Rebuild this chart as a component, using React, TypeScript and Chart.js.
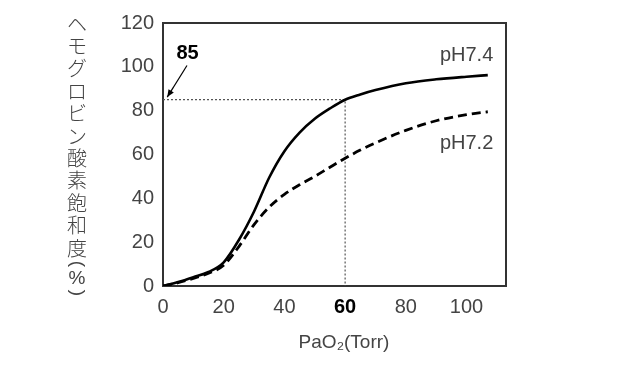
import React, { useEffect, useRef } from 'react';
import { Chart, registerables } from 'chart.js';

Chart.register(...registerables);

// ---- data ----
const xTicks = [0, 20, 40, 60, 80, 100];
const yTicks = [0, 20, 40, 60, 80, 100, 120];
const paO2 = [0, 5, 10, 15, 20, 25, 30, 35, 40, 45, 50, 55, 60, 65, 70, 80, 90, 100, 107];
const ph74 = [0, 1.8, 4, 6.4, 10.8, 21, 34, 49.5, 61.5, 70, 76.3, 81, 85, 87.4, 89.4, 92.5, 94.3, 95.5, 96.2];
const ph72 = [0, 1.5, 3.5, 5.8, 9.5, 18, 28, 36, 41.8, 46.2, 50, 54.2, 58.3, 62, 65.3, 71, 75.4, 78.2, 79.5];
const refX = [0, 60, 60];
const refY = [85, 85, 0];
const highlightX = 60;
const highlightValue = '85';
const yTitleChars = ['ヘ', 'モ', 'グ', 'ロ', 'ビ', 'ン', '酸', '素', '飽', '和', '度'];
const xTitle = 'PaO₂(Torr)';
const labelHigh = 'pH7.4';
const labelLow = 'pH7.2';

const LATIN = '"Liberation Sans", Arial, sans-serif';
const CJK = '"Noto Sans CJK JP", sans-serif';
const GRAY = '#444';

const decorPlugin = {
  id: 'decor',
  beforeDatasetsDraw(chart: any) {
    const { ctx, chartArea: a } = chart;
    ctx.save();
    ctx.strokeStyle = '#333';
    ctx.lineWidth = 2;
    ctx.strokeRect(a.left, a.top, a.right - a.left, a.bottom - a.top);
    ctx.restore();
  },
  afterDraw(chart: any) {
    const { ctx } = chart;
    const xs = chart.scales.x;
    const ys = chart.scales.y;
    ctx.save();
    // curve labels
    ctx.font = `20px ${LATIN}`;
    ctx.fillStyle = GRAY;
    ctx.textAlign = 'right';
    ctx.textBaseline = 'middle';
    ctx.fillText(labelHigh, xs.getPixelForValue(108.8), ys.getPixelForValue(105));
    ctx.fillText(labelLow, xs.getPixelForValue(108.8), ys.getPixelForValue(65));

    // 85 label + arrow
    ctx.font = `bold 20px ${LATIN}`;
    ctx.fillStyle = '#000';
    ctx.textAlign = 'center';
    ctx.fillText(highlightValue, xs.getPixelForValue(8.1), ys.getPixelForValue(106));
    const x1 = xs.getPixelForValue(7.9), y1 = ys.getPixelForValue(100.6);
    const x2 = xs.getPixelForValue(1.4), y2 = ys.getPixelForValue(86.2);
    ctx.strokeStyle = '#000';
    ctx.lineWidth = 1.2;
    ctx.beginPath();
    ctx.moveTo(x1, y1);
    ctx.lineTo(x2, y2);
    ctx.stroke();
    const ang = Math.atan2(y2 - y1, x2 - x1);
    const L = 8, W = 0.4;
    ctx.fillStyle = '#000';
    ctx.beginPath();
    ctx.moveTo(x2, y2);
    ctx.lineTo(x2 - L * Math.cos(ang - W), y2 - L * Math.sin(ang - W));
    ctx.lineTo(x2 - L * Math.cos(ang + W), y2 - L * Math.sin(ang + W));
    ctx.closePath();
    ctx.fill();

    // x title
    ctx.font = `19px ${LATIN}`;
    ctx.fillStyle = GRAY;
    ctx.textAlign = 'center';
    ctx.textBaseline = 'middle';
    ctx.fillText(xTitle, 344, 343);

    // y title (vertical)
    ctx.font = `300 20px ${CJK}`;
    const cx = 77;
    yTitleChars.forEach((ch, i) => {
      ctx.fillText(ch, cx, 24 + 22.4 * i);
    });
    ctx.font = `19px ${LATIN}`;
    const rot = (s: string, y: number) => {
      ctx.save();
      ctx.translate(cx, y);
      ctx.rotate(Math.PI / 2);
      ctx.fillText(s, 0, 0);
      ctx.restore();
    };
    rot('(', 264);
    ctx.fillText('%', cx, 279);
    rot(')', 293);
    ctx.restore();
  },
};

export default function App() {
  const ref = useRef<HTMLCanvasElement | null>(null);
  useEffect(() => {
    if (!ref.current) return;
    const tickFont = (c: any) => ({
      family: LATIN,
      size: 20,
      weight: c.tick && c.tick.value === highlightX ? 'bold' : 'normal',
    });
    const chart = new Chart(ref.current, {
      type: 'line',
      data: {
        datasets: [
          {
            label: labelHigh,
            data: paO2.map((x, i) => ({ x, y: ph74[i] })),
            borderColor: '#000',
            borderWidth: 2.6,
            pointRadius: 0,
            cubicInterpolationMode: 'monotone',
            fill: false,
          },
          {
            label: labelLow,
            data: paO2.map((x, i) => ({ x, y: ph72[i] })),
            borderColor: '#000',
            borderWidth: 2.8,
            borderDash: [9, 5],
            pointRadius: 0,
            cubicInterpolationMode: 'monotone',
            fill: false,
          },
          {
            label: 'ref',
            data: refX.map((x, i) => ({ x, y: refY[i] })),
            borderColor: '#555',
            borderWidth: 1.2,
            borderDash: [2, 2],
            pointRadius: 0,
            tension: 0,
            fill: false,
          },
        ],
      },
      options: {
        animation: false,
        responsive: false,
        layout: { padding: { top: 23, right: 127, left: 0, bottom: 0 } },
        plugins: { legend: { display: false }, tooltip: { enabled: false } },
        scales: {
          x: {
            type: 'linear',
            min: 0,
            max: 113,
            grid: { display: false, drawTicks: false },
            border: { display: false },
            afterBuildTicks: (s: any) => {
              s.ticks = xTicks.map((v) => ({ value: v }));
            },
            afterFit: (s: any) => {
              s.height = 80;
            },
            ticks: {
              padding: 9,
              autoSkip: false,
              maxRotation: 0,
              font: tickFont as any,
              color: (c: any) => (c.tick && c.tick.value === highlightX ? '#000' : GRAY),
            },
          },
          y: {
            type: 'linear',
            min: 0,
            max: 120,
            grid: { display: false, drawTicks: false },
            border: { display: false },
            afterBuildTicks: (s: any) => {
              s.ticks = yTicks.map((v) => ({ value: v }));
            },
            afterFit: (s: any) => {
              s.width = 163;
            },
            ticks: {
              padding: 9,
              font: { family: LATIN, size: 20 },
              color: GRAY,
            },
          },
        },
      } as any,
      plugins: [decorPlugin],
    });
    return () => chart.destroy();
  }, []);
  return (
    <div style={{ position: 'absolute', left: 0, top: 0, width: 633, height: 366, background: '#fff' }}>
      <canvas ref={ref} width={633} height={366} />
    </div>
  );
}
